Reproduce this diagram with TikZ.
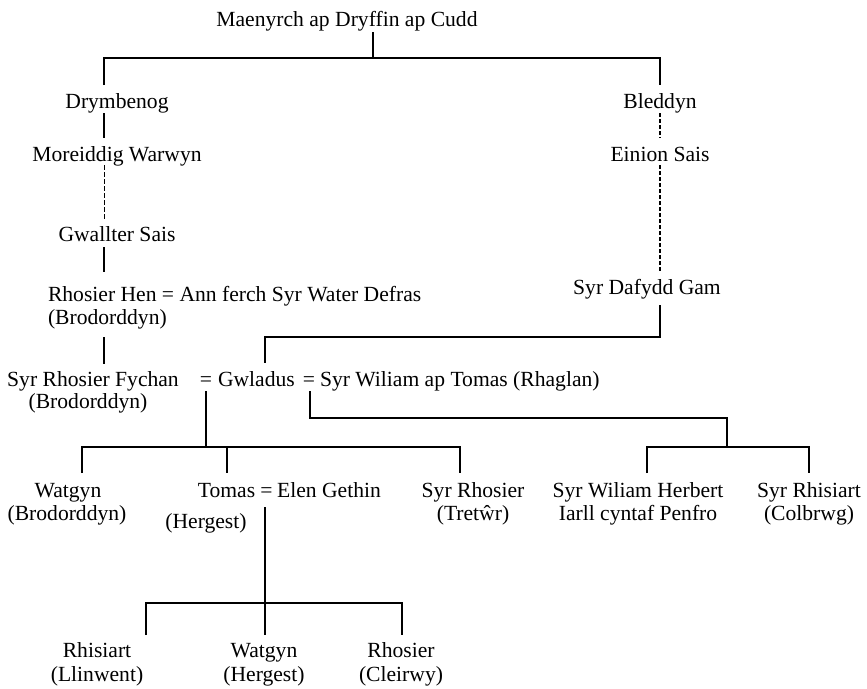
\documentclass[tikz,border=0pt]{standalone}
\usepackage{fontspec}
\setmainfont{Liberation Serif}
\usetikzlibrary{calc}
\begin{document}
\begin{tikzpicture}[x=1pt,y=-1pt,
  lbl/.style={inner sep=0pt, outer sep=0pt, anchor=base, text height=15pt, text depth=5pt, font=\fontsize{21.6}{23}\selectfont},
  ln/.style={line width=2pt},
  dshthin/.style={line width=1pt, dash pattern=on 5pt off 2pt},
  dshbold/.style={line width=1.8pt, dash pattern=on 4pt off 2pt}]
\useasboundingbox (0,0) rectangle (867,688);
% people
\node[lbl] (top) at (347,27) {Maenyrch ap Dryffin ap Cudd};
\node[lbl] (drym) at (117,108) {Drymbenog};
\node[lbl] (mor) at (117,161) {Moreiddig Warwyn};
\node[lbl] (gwal) at (117,241) {Gwallter Sais};
\node[lbl,anchor=base west] (rhen) at (48,301) {Rhosier Hen = Ann ferch Syr Water Defras};
\node[lbl,anchor=base west] (rhenB) at (48,324) {(Brodorddyn)};
\node[lbl] (bled) at (660,108) {Bleddyn};
\node[lbl] (einion) at (660,161) {Einion Sais};
\node[lbl] (dafydd) at (647,294) {Syr Dafydd Gam};
\node[lbl] (fychan) at (93,386) {Syr Rhosier Fychan};
\node[lbl] (fychanB) at (88,408) {(Brodorddyn)};
\node[lbl] (eq1) at (206,386) {=};
\node[lbl,anchor=base west] (gwl) at (218,386) {Gwladus};
\node[lbl] (eq2) at (309,386) {=};
\node[lbl,anchor=base west] (wiliam) at (320,386) {Syr Wiliam ap Tomas (Rhaglan)};
\node[lbl] (watgyn) at (68,497) {Watgyn};
\node[lbl] (watgynB) at (67,520) {(Brodorddyn)};
\node[lbl] (tomas) at (226.5,497) {Tomas};
\node[lbl] (eq3) at (266.5,497) {=};
\node[lbl] (elen) at (329,497) {Elen Gethin};
\node[lbl] (hergest) at (206,528) {(Hergest)};
\node[lbl] (rhos) at (473,497) {Syr Rhosier};
\node[lbl] (rhosB) at (473,520) {(Tretŵr)};
\node[lbl] (herbert) at (638,497) {Syr Wiliam Herbert};
\node[lbl] (herbertB) at (638,520) {Iarll cyntaf Penfro};
\node[lbl] (rhis) at (809,497) {Syr Rhisiart};
\node[lbl] (rhisB) at (809,520) {(Colbrwg)};
\node[lbl] (gc1) at (97,657) {Rhisiart};
\node[lbl] (gc1B) at (97,681) {(Llinwent)};
\node[lbl] (gc2) at (264,657) {Watgyn};
\node[lbl] (gc2B) at (264,681) {(Hergest)};
\node[lbl] (gc3) at (401,657) {Rhosier};
\node[lbl] (gc3B) at (401,681) {(Cleirwy)};
% junctions
\coordinate (cL) at (104,58);
\coordinate (cT) at (373,58);
\coordinate (cR) at (660,58);
\coordinate (cG) at (265,337);
\coordinate (cA) at (206,447);
\coordinate (cW) at (82,447);
\coordinate (cS) at (460,447);
\coordinate (cB) at (310,418);
\coordinate (cC) at (727,418);
\coordinate (cD) at (727,447);
\coordinate (cH) at (647,447);
\coordinate (cI) at (809,447);
\coordinate (cT2) at (265,603);
\coordinate (cG1) at (146,603);
\coordinate (cG3) at (402,603);
% connectors
\draw[ln] (top.south -| cT) -- (cT);
\draw[ln] ($(drym.north -| cL)+(0,-8)$) -- (cL) -- (cR) -- ($(bled.north -| cR)+(0,-8)$);
\draw[ln] (drym.south -| cL) -- ($(mor.north -| cL)+(0,-8)$);
\draw[dshthin] ($(mor.south -| cL)+(0,-1)$) -- ($(gwal.north -| cL)+(0,-6)$);
\draw[ln] ($(gwal.south -| cL)+(0,1)$) -- ($(rhen.north -| cL)+(0,-14)$);
\draw[ln] ($(rhenB.south -| cL)+(0,8)$) -- ($(fychan.north -| cL)+(0,-7)$);
\draw[dshbold] (bled.south -| cR) -- ($(einion.north -| cR)+(0,-8)$);
\draw[dshbold] ($(einion.south -| cR)+(0,-1)$) -- ($(dafydd.north -| cR)+(0,-7)$);
\draw[ln] ($(dafydd.south -| cR)+(0,6)$) |- (cG) -- ($(gwl.north -| cG)+(0,-8)$);
\draw[ln] (eq1.south -| cA) -- (cA);
\draw[ln] ($(watgyn.north -| cW)+(0,-9)$) -- (cW) -- (cS) -- ($(rhos.north -| cS)+(0,-9)$);
\draw[ln] (cA -| tomas.north) -- ($(tomas.north)+(0,-9)$);
\draw[ln] (eq2.south -| cB) -- (cB) -- (cC) -- (cD);
\draw[ln] ($(herbert.north -| cH)+(0,-9)$) -- (cH) -- (cI) -- ($(rhis.north -| cI)+(0,-9)$);
\draw[ln] ($(eq3.south -| cT2)+(0,5)$) -- ($(gc2.north -| cT2)+(0,-7)$);
\draw[ln] ($(gc1.north -| cG1)+(0,-7)$) -- (cG1) -- (cG3) -- ($(gc3.north -| cG3)+(0,-7)$);
\end{tikzpicture}
\end{document}
